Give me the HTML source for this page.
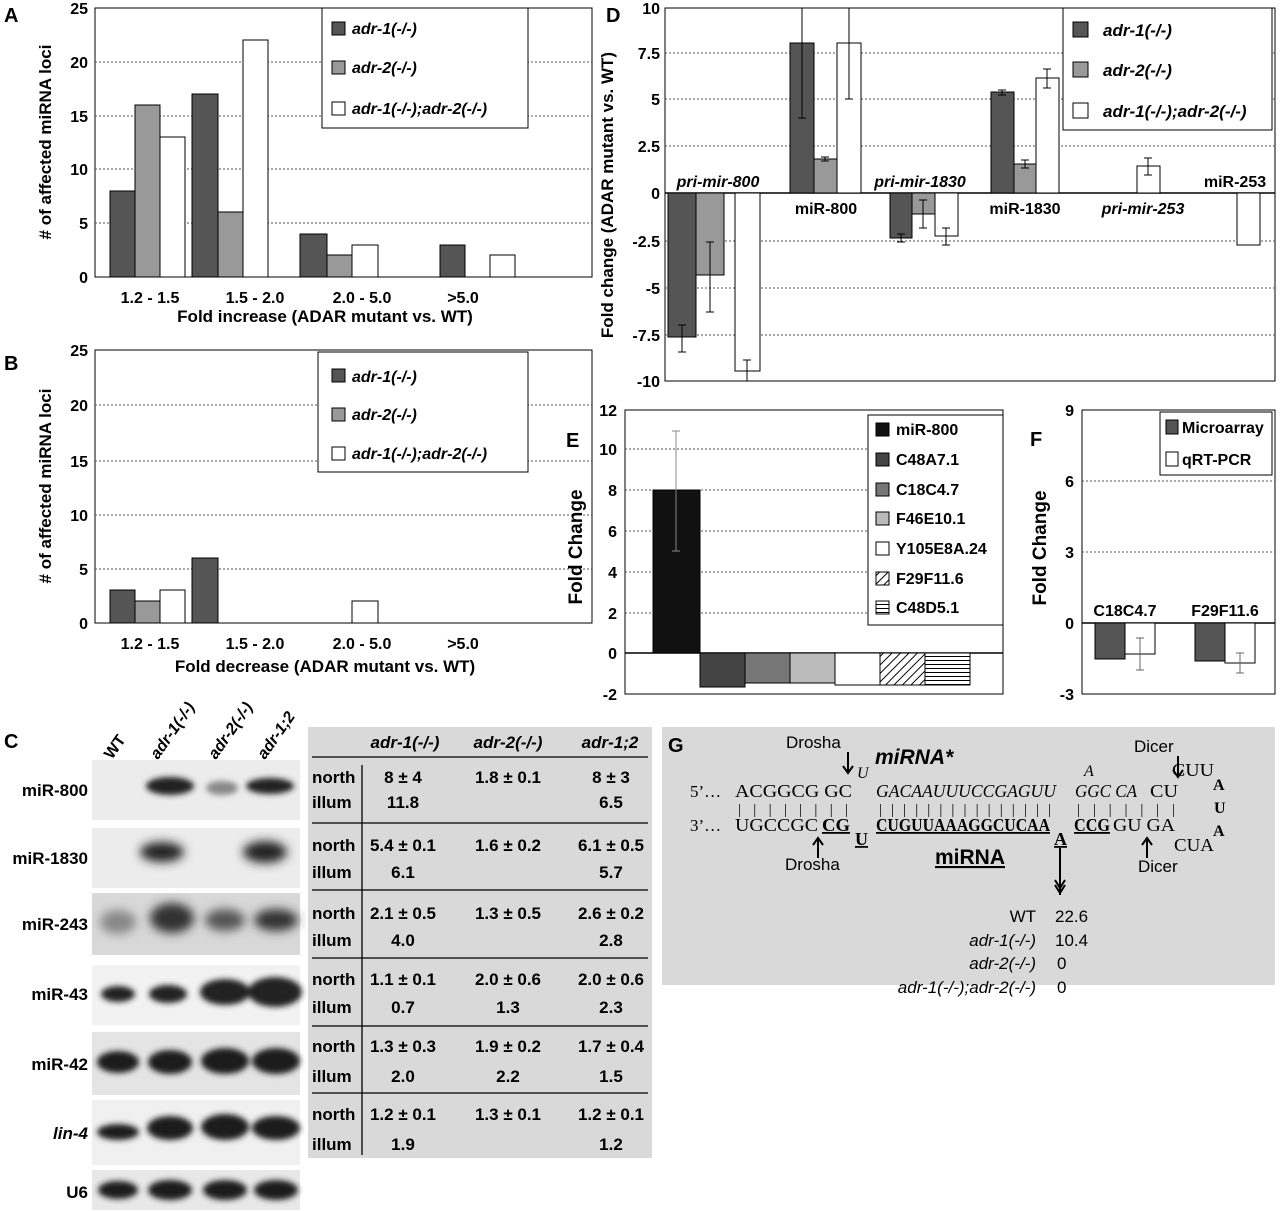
<!DOCTYPE html>
<html><head><meta charset="utf-8"><style>
body{margin:0;background:#fff}
svg{display:block;font-family:"Liberation Sans",Arial,sans-serif}
.sq{font-family:"Liberation Serif",serif}
</style></head><body>
<svg width="1280" height="1211" viewBox="0 0 1280 1211" xmlns="http://www.w3.org/2000/svg">
<defs>
<filter id="bl" x="-50%" y="-50%" width="200%" height="200%"><feGaussianBlur stdDeviation="5"/></filter>
<filter id="bl2" x="-50%" y="-50%" width="200%" height="200%"><feGaussianBlur stdDeviation="3"/></filter>
<pattern id="diag" width="6" height="6" patternUnits="userSpaceOnUse" patternTransform="rotate(45)"><rect width="6" height="6" fill="#fff"/><line x1="0" y1="0" x2="0" y2="6" stroke="#000" stroke-width="2"/></pattern>
<pattern id="hor" width="6" height="4" patternUnits="userSpaceOnUse"><rect width="6" height="4" fill="#fff"/><line x1="0" y1="0.5" x2="6" y2="0.5" stroke="#000" stroke-width="1"/></pattern>
</defs>

<!-- Panel A -->
<g stroke="#000" stroke-width="1">
<rect x="95" y="8" width="497" height="269" fill="#fff"/>
<g stroke-dasharray="2,2" stroke="#555"><line x1="95" y1="62" x2="592" y2="62"/><line x1="95" y1="116" x2="592" y2="116"/><line x1="95" y1="169" x2="592" y2="169"/><line x1="95" y1="223" x2="592" y2="223"/></g>
<rect x="110" y="191" width="25" height="86" fill="#555"/>
<rect x="135" y="105" width="25" height="172" fill="#999"/>
<rect x="160" y="137" width="25" height="140" fill="#fff"/>
<rect x="192" y="94" width="26" height="183" fill="#555"/>
<rect x="218" y="212" width="25" height="65" fill="#999"/>
<rect x="243" y="40" width="25" height="237" fill="#fff"/>
<rect x="300" y="234" width="27" height="43" fill="#555"/>
<rect x="327" y="255" width="25" height="22" fill="#999"/>
<rect x="352" y="245" width="26" height="32" fill="#fff"/>
<rect x="440" y="245" width="25" height="32" fill="#555"/>
<rect x="490" y="255" width="25" height="22" fill="#fff"/>
<rect x="322" y="8" width="206" height="120" fill="#fff"/>
<rect x="332" y="22" width="13" height="13" fill="#555"/>
<rect x="332" y="61" width="13" height="13" fill="#999"/>
<rect x="332" y="102" width="13" height="13" fill="#fff"/>
</g>
<g font-size="16" font-weight="bold" text-anchor="end">
<text x="88" y="14">25</text><text x="88" y="68">20</text><text x="88" y="122">15</text><text x="88" y="175">10</text><text x="88" y="229">5</text><text x="88" y="283">0</text>
</g>
<g font-size="16" font-weight="bold" text-anchor="middle">
<text x="150" y="303">1.2 - 1.5</text><text x="255" y="303">1.5 - 2.0</text><text x="362" y="303">2.0 - 5.0</text><text x="463" y="303">&gt;5.0</text>
<text x="325" y="322" font-size="17">Fold increase (ADAR mutant vs. WT)</text>
<text transform="translate(51,142) rotate(-90)" font-size="17"># of affected miRNA loci</text>
</g>
<g font-size="16" font-weight="bold" font-style="italic">
<text x="352" y="34">adr-1(-/-)</text><text x="352" y="73">adr-2(-/-)</text><text x="352" y="114">adr-1(-/-);adr-2(-/-)</text>
</g>

<!-- Panel B -->
<g stroke="#000" stroke-width="1">
<rect x="95" y="350" width="497" height="273" fill="#fff"/>
<g stroke-dasharray="2,2" stroke="#555"><line x1="95" y1="405" x2="592" y2="405"/><line x1="95" y1="461" x2="592" y2="461"/><line x1="95" y1="515" x2="592" y2="515"/><line x1="95" y1="569" x2="592" y2="569"/></g>
<rect x="110" y="590" width="25" height="33" fill="#555"/>
<rect x="135" y="601" width="25" height="22" fill="#999"/>
<rect x="160" y="590" width="25" height="33" fill="#fff"/>
<rect x="192" y="558" width="26" height="65" fill="#555"/>
<rect x="352" y="601" width="26" height="22" fill="#fff"/>
<rect x="318" y="352" width="210" height="120" fill="#fff"/>
<rect x="332" y="369" width="13" height="13" fill="#555"/>
<rect x="332" y="408" width="13" height="13" fill="#999"/>
<rect x="332" y="447" width="13" height="13" fill="#fff"/>
</g>
<g font-size="16" font-weight="bold" text-anchor="end">
<text x="88" y="356">25</text><text x="88" y="411">20</text><text x="88" y="467">15</text><text x="88" y="521">10</text><text x="88" y="575">5</text><text x="88" y="629">0</text>
</g>
<g font-size="16" font-weight="bold" text-anchor="middle">
<text x="150" y="649">1.2 - 1.5</text><text x="255" y="649">1.5 - 2.0</text><text x="362" y="649">2.0 - 5.0</text><text x="463" y="649">&gt;5.0</text>
<text x="325" y="672" font-size="17">Fold decrease (ADAR mutant vs. WT)</text>
<text transform="translate(51,486) rotate(-90)" font-size="17"># of affected miRNA loci</text>
</g>
<g font-size="16" font-weight="bold" font-style="italic">
<text x="352" y="382">adr-1(-/-)</text><text x="352" y="420">adr-2(-/-)</text><text x="352" y="459">adr-1(-/-);adr-2(-/-)</text>
</g>

<!-- Panel D -->
<g stroke="#000" stroke-width="1">
<rect x="665" y="8" width="610" height="373" fill="#fff"/>
<g stroke-dasharray="2,2" stroke="#555"><line x1="665" y1="53" x2="1275" y2="53"/><line x1="665" y1="99" x2="1275" y2="99"/><line x1="665" y1="146" x2="1275" y2="146"/><line x1="665" y1="241" x2="1275" y2="241"/><line x1="665" y1="288" x2="1275" y2="288"/><line x1="665" y1="335" x2="1275" y2="335"/></g>
<line x1="665" y1="193" x2="1275" y2="193" stroke-width="1.5"/>
<rect x="668" y="193" width="28" height="144" fill="#555"/>
<rect x="696" y="193" width="28" height="82" fill="#999"/>
<rect x="735" y="193" width="25" height="178" fill="#fff"/>
<rect x="790" y="43" width="24" height="150" fill="#555"/>
<rect x="814" y="159" width="23" height="34" fill="#999"/>
<rect x="837" y="43" width="24" height="150" fill="#fff"/>
<rect x="890" y="193" width="22" height="45" fill="#555"/>
<rect x="912" y="193" width="23" height="21" fill="#999"/>
<rect x="935" y="193" width="23" height="43" fill="#fff"/>
<rect x="991" y="92" width="23" height="101" fill="#555"/>
<rect x="1014" y="164" width="22" height="29" fill="#999"/>
<rect x="1036" y="78" width="23" height="115" fill="#fff"/>
<rect x="1137" y="166" width="23" height="27" fill="#fff"/>
<rect x="1237" y="193" width="23" height="52" fill="#fff"/>
<g stroke-width="1">
<path d="M682 325V352M678 325h8M678 352h8"/>
<path d="M710 242V312M706 242h8M706 312h8"/>
<path d="M747 360V381M743 360h8"/>
<path d="M802 8V118M798 118h8"/>
<path d="M825 157V161M821 157h8M821 161h8"/>
<path d="M849 8V99M845 99h8"/>
<path d="M901 234V242M897 234h8M897 242h8"/>
<path d="M923 200V228M919 200h8M919 228h8"/>
<path d="M946 228V245M942 228h8M942 245h8"/>
<path d="M1002 90V95M998 90h8M998 95h8"/>
<path d="M1025 160V168M1021 160h8M1021 168h8"/>
<path d="M1047 69V88M1043 69h8M1043 88h8"/>
<path d="M1148 158V175M1144 158h8M1144 175h8"/>
</g>
<rect x="1063" y="8" width="209" height="122" fill="#fff"/>
<rect x="1073" y="22" width="15" height="15" fill="#555"/>
<rect x="1073" y="62" width="15" height="15" fill="#999"/>
<rect x="1073" y="103" width="15" height="15" fill="#fff"/>
</g>
<g font-size="16" font-weight="bold" text-anchor="end">
<text x="660" y="14">10</text><text x="660" y="59">7.5</text><text x="660" y="105">5</text><text x="660" y="152">2.5</text><text x="660" y="199">0</text><text x="660" y="247">-2.5</text><text x="660" y="294">-5</text><text x="660" y="341">-7.5</text><text x="660" y="387">-10</text>
</g>
<text transform="translate(613,195) rotate(-90)" font-size="17" font-weight="bold" text-anchor="middle">Fold change (ADAR mutant vs. WT)</text>
<g font-size="16" font-weight="bold" text-anchor="middle">
<text x="718" y="187" font-style="italic">pri-mir-800</text>
<text x="826" y="214">miR-800</text>
<text x="920" y="187" font-style="italic">pri-mir-1830</text>
<text x="1025" y="214">miR-1830</text>
<text x="1143" y="214" font-style="italic">pri-mir-253</text>
<text x="1235" y="187">miR-253</text>
</g>
<g font-size="17" font-weight="bold" font-style="italic">
<text x="1103" y="36">adr-1(-/-)</text><text x="1103" y="76">adr-2(-/-)</text><text x="1103" y="117">adr-1(-/-);adr-2(-/-)</text>
</g>

<!-- Panel E -->
<g stroke="#000" stroke-width="1">
<rect x="625" y="410" width="378" height="284" fill="#fff"/>
<g stroke-dasharray="2,2" stroke="#555"><line x1="625" y1="449" x2="1003" y2="449"/><line x1="625" y1="490" x2="1003" y2="490"/><line x1="625" y1="531" x2="1003" y2="531"/><line x1="625" y1="572" x2="1003" y2="572"/><line x1="625" y1="613" x2="1003" y2="613"/></g>
<line x1="625" y1="653" x2="1003" y2="653" stroke-width="1.5"/>
<rect x="653" y="490" width="47" height="163" fill="#111"/>
<rect x="700" y="653" width="45" height="34" fill="#444"/>
<rect x="745" y="653" width="45" height="30" fill="#777"/>
<rect x="790" y="653" width="45" height="30" fill="#bbb"/>
<rect x="835" y="653" width="45" height="32" fill="#fff"/>
<rect x="880" y="653" width="45" height="32" fill="url(#diag)"/>
<rect x="925" y="653" width="45" height="32" fill="url(#hor)"/>
<path d="M676 431V551M672 431h8M672 551h8" stroke="#888"/>
<rect x="868" y="415" width="135" height="210" fill="#fff"/>
<rect x="876" y="423" width="13" height="13" fill="#111"/>
<rect x="876" y="453" width="13" height="13" fill="#444"/>
<rect x="876" y="483" width="13" height="13" fill="#777"/>
<rect x="876" y="512" width="13" height="13" fill="#bbb"/>
<rect x="876" y="542" width="13" height="13" fill="#fff"/>
<rect x="876" y="572" width="13" height="13" fill="url(#diag)"/>
<rect x="876" y="601" width="13" height="13" fill="url(#hor)"/>
</g>
<g font-size="16" font-weight="bold" text-anchor="end">
<text x="617" y="416">12</text><text x="617" y="455">10</text><text x="617" y="496">8</text><text x="617" y="537">6</text><text x="617" y="578">4</text><text x="617" y="619">2</text><text x="617" y="659">0</text><text x="617" y="700">-2</text>
</g>
<text transform="translate(582,547) rotate(-90)" font-size="19" font-weight="bold" text-anchor="middle">Fold Change</text>
<g font-size="16" font-weight="bold">
<text x="896" y="435">miR-800</text><text x="896" y="465">C48A7.1</text><text x="896" y="495">C18C4.7</text><text x="896" y="524">F46E10.1</text><text x="896" y="554">Y105E8A.24</text><text x="896" y="584">F29F11.6</text><text x="896" y="613">C48D5.1</text>
</g>

<!-- Panel F -->
<g stroke="#000" stroke-width="1">
<rect x="1082" y="410" width="193" height="284" fill="#fff"/>
<g stroke-dasharray="2,2" stroke="#555"><line x1="1082" y1="481" x2="1275" y2="481"/><line x1="1082" y1="552" x2="1275" y2="552"/></g>
<line x1="1082" y1="623" x2="1275" y2="623" stroke-width="1.5"/>
<rect x="1095" y="623" width="30" height="36" fill="#555"/>
<rect x="1125" y="623" width="30" height="31" fill="#fff"/>
<rect x="1195" y="623" width="30" height="38" fill="#555"/>
<rect x="1225" y="623" width="30" height="40" fill="#fff"/>
<path d="M1140 638V670M1136 638h8M1136 670h8" stroke="#666"/>
<path d="M1240 653V673M1236 653h8M1236 673h8" stroke="#666"/>
<rect x="1160" y="412" width="112" height="63" fill="#fff"/>
<rect x="1166" y="420" width="12" height="14" fill="#555"/>
<rect x="1166" y="452" width="12" height="14" fill="#fff"/>
</g>
<g font-size="16" font-weight="bold" text-anchor="end">
<text x="1074" y="416">9</text><text x="1074" y="487">6</text><text x="1074" y="558">3</text><text x="1074" y="629">0</text><text x="1074" y="700">-3</text>
</g>
<text transform="translate(1046,548) rotate(-90)" font-size="19" font-weight="bold" text-anchor="middle">Fold Change</text>
<g font-size="16" font-weight="bold">
<text x="1182" y="433">Microarray</text><text x="1182" y="465">qRT-PCR</text>
<text x="1125" y="616" text-anchor="middle">C18C4.7</text><text x="1225" y="616" text-anchor="middle">F29F11.6</text>
</g>

<!-- Panel C gels -->
<g font-size="16" font-weight="bold">
<text transform="translate(112,760) rotate(-55)">WT</text>
<text transform="translate(158,760) rotate(-55)" font-style="italic">adr-1(-/-)</text>
<text transform="translate(216,760) rotate(-55)" font-style="italic">adr-2(-/-)</text>
<text transform="translate(265,760) rotate(-55)" font-style="italic">adr-1;2</text>
</g>
<g>
<rect x="92" y="760" width="208" height="60" fill="#ececec"/>
<g filter="url(#bl2)" fill="#222"><ellipse cx="170" cy="786" rx="24" ry="9"/><ellipse cx="222" cy="788" rx="16" ry="7" fill="#888"/><ellipse cx="270" cy="786" rx="24" ry="8"/></g>
<rect x="92" y="828" width="208" height="60" fill="#ececec"/>
<g filter="url(#bl)" fill="#222"><ellipse cx="162" cy="852" rx="22" ry="10"/><ellipse cx="265" cy="852" rx="22" ry="11"/></g>
<rect x="92" y="893" width="208" height="62" fill="#d8d8d8"/>
<g filter="url(#bl)" fill="#333"><ellipse cx="118" cy="922" rx="18" ry="12" fill="#888"/><ellipse cx="172" cy="918" rx="22" ry="15"/><ellipse cx="225" cy="920" rx="20" ry="11" fill="#555"/><ellipse cx="276" cy="920" rx="22" ry="11" fill="#333"/></g>
<rect x="92" y="965" width="208" height="60" fill="#f2f2f2"/>
<g filter="url(#bl2)" fill="#222"><ellipse cx="118" cy="994" rx="17" ry="8"/><ellipse cx="168" cy="994" rx="19" ry="9"/><ellipse cx="225" cy="992" rx="25" ry="13"/><ellipse cx="275" cy="992" rx="27" ry="15"/></g>
<rect x="92" y="1032" width="208" height="63" fill="#e4e4e4"/>
<g filter="url(#bl2)" fill="#1a1a1a"><ellipse cx="118" cy="1062" rx="21" ry="11"/><ellipse cx="170" cy="1062" rx="22" ry="12"/><ellipse cx="225" cy="1061" rx="24" ry="13"/><ellipse cx="276" cy="1061" rx="24" ry="13"/></g>
<rect x="92" y="1100" width="208" height="65" fill="#f0f0f0"/>
<g filter="url(#bl2)" fill="#1a1a1a"><ellipse cx="118" cy="1132" rx="21" ry="8"/><ellipse cx="170" cy="1128" rx="23" ry="12"/><ellipse cx="225" cy="1127" rx="24" ry="13"/><ellipse cx="276" cy="1128" rx="24" ry="12"/></g>
<rect x="92" y="1170" width="208" height="40" fill="#e8e8e8"/>
<g filter="url(#bl2)" fill="#1a1a1a"><ellipse cx="118" cy="1190" rx="20" ry="9"/><ellipse cx="170" cy="1190" rx="22" ry="10"/><ellipse cx="225" cy="1190" rx="22" ry="10"/><ellipse cx="276" cy="1190" rx="22" ry="10"/></g>
</g>
<g font-size="17" font-weight="bold" text-anchor="end">
<text x="88" y="796">miR-800</text><text x="88" y="864">miR-1830</text><text x="88" y="930">miR-243</text><text x="88" y="1000">miR-43</text><text x="88" y="1070">miR-42</text><text x="88" y="1139" font-style="italic">lin-4</text><text x="88" y="1198">U6</text>
</g>

<!-- Table -->
<rect x="308" y="727" width="344" height="431" fill="#d9d9d9"/>
<g stroke="#000" stroke-width="1.3">
<line x1="312" y1="757" x2="648" y2="757"/><line x1="312" y1="823" x2="648" y2="823"/><line x1="312" y1="890" x2="648" y2="890"/><line x1="312" y1="958" x2="648" y2="958"/><line x1="312" y1="1026" x2="648" y2="1026"/><line x1="312" y1="1093" x2="648" y2="1093"/>
<line x1="362" y1="765" x2="362" y2="823"/><line x1="362" y1="823" x2="362" y2="890"/><line x1="362" y1="890" x2="362" y2="958"/><line x1="362" y1="958" x2="362" y2="1026"/><line x1="362" y1="1026" x2="362" y2="1093"/><line x1="362" y1="1093" x2="362" y2="1155"/>
</g>
<g font-size="17" font-weight="bold" font-style="italic" text-anchor="middle">
<text x="405" y="748">adr-1(-/-)</text><text x="508" y="748">adr-2(-/-)</text><text x="610" y="748">adr-1;2</text>
</g>
<g font-size="17" font-weight="bold">
<text x="312" y="783">north</text><text x="312" y="808">illum</text>
<text x="312" y="851">north</text><text x="312" y="878">illum</text>
<text x="312" y="919">north</text><text x="312" y="946">illum</text>
<text x="312" y="985">north</text><text x="312" y="1013">illum</text>
<text x="312" y="1052">north</text><text x="312" y="1082">illum</text>
<text x="312" y="1120">north</text><text x="312" y="1150">illum</text>
</g>
<g font-size="17" font-weight="bold" text-anchor="middle">
<text x="403" y="783">8 ± 4</text><text x="508" y="783">1.8 ± 0.1</text><text x="611" y="783">8 ± 3</text>
<text x="403" y="808">11.8</text><text x="611" y="808">6.5</text>
<text x="403" y="851">5.4 ± 0.1</text><text x="508" y="851">1.6 ± 0.2</text><text x="611" y="851">6.1 ± 0.5</text>
<text x="403" y="878">6.1</text><text x="611" y="878">5.7</text>
<text x="403" y="919">2.1 ± 0.5</text><text x="508" y="919">1.3 ± 0.5</text><text x="611" y="919">2.6 ± 0.2</text>
<text x="403" y="946">4.0</text><text x="611" y="946">2.8</text>
<text x="403" y="985">1.1 ± 0.1</text><text x="508" y="985">2.0 ± 0.6</text><text x="611" y="985">2.0 ± 0.6</text>
<text x="403" y="1013">0.7</text><text x="508" y="1013">1.3</text><text x="611" y="1013">2.3</text>
<text x="403" y="1052">1.3 ± 0.3</text><text x="508" y="1052">1.9 ± 0.2</text><text x="611" y="1052">1.7 ± 0.4</text>
<text x="403" y="1082">2.0</text><text x="508" y="1082">2.2</text><text x="611" y="1082">1.5</text>
<text x="403" y="1120">1.2 ± 0.1</text><text x="508" y="1120">1.3 ± 0.1</text><text x="611" y="1120">1.2 ± 0.1</text>
<text x="403" y="1150">1.9</text><text x="611" y="1150">1.2</text>
</g>

<!-- Panel G -->
<rect x="662" y="727" width="613" height="258" fill="#d9d9d9"/>
<g font-size="17">
<text x="786" y="748">Drosha</text>
<text x="1134" y="752">Dicer</text>
<text x="875" y="764" font-size="21" font-weight="bold" font-style="italic">miRNA*</text>
<text x="785" y="870">Drosha</text><text x="1138" y="872">Dicer</text>
<text x="935" y="864" font-size="21" font-weight="bold" text-decoration="underline">miRNA</text>
</g>
<g class="sq" font-size="18">
<text x="1172" y="776" textLength="42" lengthAdjust="spacingAndGlyphs">CUU</text><text x="1213" y="790" font-weight="bold" font-size="16">A</text>
<text x="857" y="778" font-style="italic" font-size="16">U</text>
<text x="1084" y="776" font-style="italic" font-size="16">A</text>
<text x="690" y="797" font-size="17">5’…</text>
<text x="735" y="797" textLength="117" lengthAdjust="spacingAndGlyphs">ACGGCG GC</text>
<text x="876" y="797" font-style="italic" textLength="180" lengthAdjust="spacingAndGlyphs">GACAAUUUCCGAGUU</text>
<text x="1075" y="797" font-style="italic" textLength="62" lengthAdjust="spacingAndGlyphs">GGC CA</text>
<text x="1150" y="797" textLength="28" lengthAdjust="spacingAndGlyphs">CU</text>
<text x="1214" y="813" font-weight="bold" font-size="16">U</text>
<text x="738" y="814" font-size="15" textLength="110" lengthAdjust="spacing">| | | | | |  | |</text>
<text x="879" y="814" font-size="15" textLength="172" lengthAdjust="spacing">| | | | | | | | | | | | | | |</text>
<text x="1077" y="814" font-size="15" textLength="98" lengthAdjust="spacing">| | |  | |  | |</text>
<text x="690" y="831" font-size="17">3’…</text>
<text x="735" y="831" textLength="83" lengthAdjust="spacingAndGlyphs">UGCCGC</text>
<text x="822" y="831" font-weight="bold" text-decoration="underline" textLength="28" lengthAdjust="spacingAndGlyphs">CG</text>
<text x="876" y="831" font-weight="bold" text-decoration="underline" textLength="174" lengthAdjust="spacingAndGlyphs">CUGUUAAAGGCUCAA</text>
<text x="1074" y="831" font-weight="bold" text-decoration="underline" textLength="36" lengthAdjust="spacingAndGlyphs">CCG</text>
<text x="1113" y="831" textLength="62" lengthAdjust="spacingAndGlyphs">GU GA</text>
<text x="1213" y="836" font-weight="bold" font-size="16">A</text>
<text x="855" y="845" font-weight="bold" text-decoration="underline">U</text>
<text x="1054" y="845" font-weight="bold" text-decoration="underline">A</text>
<text x="1174" y="851" textLength="40" lengthAdjust="spacingAndGlyphs">CUA</text>
</g>
<g font-size="17">
<text x="1036" y="922" text-anchor="end">WT</text><text x="1055" y="922">22.6</text>
<text x="1036" y="946" text-anchor="end" font-style="italic">adr-1(-/-)</text><text x="1055" y="946">10.4</text>
<text x="1036" y="969" text-anchor="end" font-style="italic">adr-2(-/-)</text><text x="1057" y="969">0</text>
<text x="1036" y="993" text-anchor="end" font-style="italic">adr-1(-/-);adr-2(-/-)</text><text x="1057" y="993">0</text>
</g>
<g stroke="#000" stroke-width="2" fill="none">
<path d="M848 752V772M843 766l5 7 5-7"/>
<path d="M1178 756V776M1173 770l5 7 5-7"/>
<path d="M818 858V838M813 845l5-7 5 7"/>
<path d="M1147 858V838M1142 845l5-7 5 7"/>
<path d="M1060 848V895M1055 885l5 8 5-8M1055 880l5 8 5-8"/>
</g>

<g font-weight="bold" font-size="20" fill="#000">
<text x="4" y="22">A</text>
<text x="4" y="370">B</text>
<text x="4" y="748">C</text>
<text x="606" y="22">D</text>
<text x="566" y="447">E</text>
<text x="1030" y="446">F</text>
<text x="668" y="752">G</text>
</g>
</svg>
</body></html>
